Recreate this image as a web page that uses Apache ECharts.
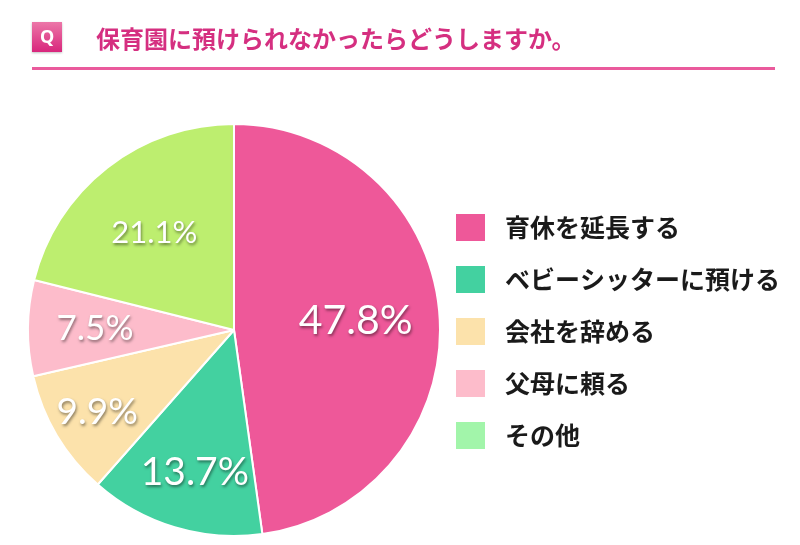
<!DOCTYPE html>
<html>
<head>
<meta charset="UTF-8"/>
<title>保育園に預けられなかったらどうしますか。</title>
<script src="https://cdn.jsdelivr.net/npm/echarts@6/dist/echarts.min.js"></script>
<style>
html, body { margin: 0; padding: 0; background: #fff; }
#placeholder { width: 800px; height: 545px; }
</style>
</head>
<body>
<div id="placeholder"></div>
<script type="text/javascript">
// 回答と割合（%）
var answers = ['育休を延長する', 'ベビーシッターに預ける', '会社を辞める', '父母に頼る', 'その他'];
var shares = [47.8, 13.7, 9.9, 7.5, 21.1];
var sliceColors = ['#ee5899', '#43d1a0', '#fce2ab', '#fdbccb', '#bdee6f'];
var legendColors = ['#ee5899', '#43d1a0', '#fce2ab', '#fdbccb', '#a2f5aa'];

var myChart = echarts.init(document.getElementById('placeholder'));

var pieData = answers.map(function (name, i) {
    return { name: name, value: shares[i], itemStyle: { color: sliceColors[i] } };
});

// ラベルの微調整（padding で左右、空行で上下にずらす）
var labelTweaks = [
    { fontSize: 41, padding: [0, 28, 0, 0] },
    { fontSize: 39 },
    { fontSize: 37, padding: [0, 40, 0, 0] },
    { fontSize: 35, padding: [0, 6, 0, 0] },
    { fontSize: 31, padding: [0, 0, 0, 8] }
];
var gapTags = ['', '{g24|}\n', '{g24|}\n', '', '{g20|}\n'];

var option = {
    animation: false,
    title: {
        text: '保育園に預けられなかったらどうしますか。',
        left: 91,
        top: 22,
        textStyle: {
            color: '#d52f80',
            fontSize: 24,
            fontWeight: 'bold',
            fontFamily: 'Noto Sans CJK JP'
        }
    },
    graphic: [
        {
            type: 'rect',
            shape: { x: 32, y: 22, width: 30, height: 30 },
            style: {
                fill: new echarts.graphic.LinearGradient(0, 0, 0, 1, [
                    { offset: 0, color: '#ec77a8' },
                    { offset: 1, color: '#d8267c' }
                ]),
                shadowColor: 'rgba(0,0,0,0.25)',
                shadowBlur: 2,
                shadowOffsetY: 1
            }
        },
        {
            type: 'text',
            x: 47, y: 38,
            style: {
                text: 'Q', fill: '#fff', fontSize: 18, fontWeight: 'bold',
                fontFamily: 'Noto Sans', align: 'center', verticalAlign: 'middle'
            }
        },
        {
            type: 'rect',
            shape: { x: 32, y: 67, width: 743, height: 3 },
            style: { fill: '#ea5a9c' }
        }
    ],
    legend: {
        orient: 'vertical',
        left: 449,
        top: 207,
        itemWidth: 31,
        itemHeight: 29,
        itemGap: 21,
        icon: 'rect',
        textStyle: {
            color: '#1a1a1a',
            fontSize: 25,
            fontFamily: 'Noto Sans CJK JP',
            fontWeight: 'bold',
            padding: [0, 0, 0, 14]
        },
        data: answers.map(function (name, i) {
            return { name: name, itemStyle: { color: legendColors[i] } };
        })
    },
    series: [
        {
            type: 'pie',
            center: [234, 330],
            radius: [0, 206],
            startAngle: 90,
            clockwise: true,
            silent: true,
            label: { show: false },
            labelLine: { show: false },
            itemStyle: { borderColor: '#fff', borderWidth: 2 },
            data: pieData
        },
        {
            // 透明な輪でラベル位置を外側へ寄せる
            type: 'pie',
            center: [234, 330],
            radius: [60, 206],
            startAngle: 90,
            clockwise: true,
            silent: true,
            itemStyle: { color: 'rgba(0,0,0,0)' },
            labelLine: { show: false },
            label: {
                show: true,
                position: 'inside',
                formatter: function (p) {
                    return gapTags[p.dataIndex] + p.value + '%';
                },
                color: '#fff',
                fontSize: 36,
                fontFamily: 'Lato',
                fontWeight: 'normal',
                textShadowColor: 'rgba(0,0,0,0.45)',
                textShadowBlur: 3,
                textShadowOffsetX: 1,
                textShadowOffsetY: 2,
                rich: {
                    g24: { height: 24, lineHeight: 24, fontSize: 1 },
                    g20: { height: 20, lineHeight: 20, fontSize: 1 }
                }
            },
            data: shares.map(function (v, i) {
                return { name: answers[i], value: v, label: labelTweaks[i] };
            })
        }
    ]
};
myChart.setOption(option, true);
</script>
</body>
</html>
